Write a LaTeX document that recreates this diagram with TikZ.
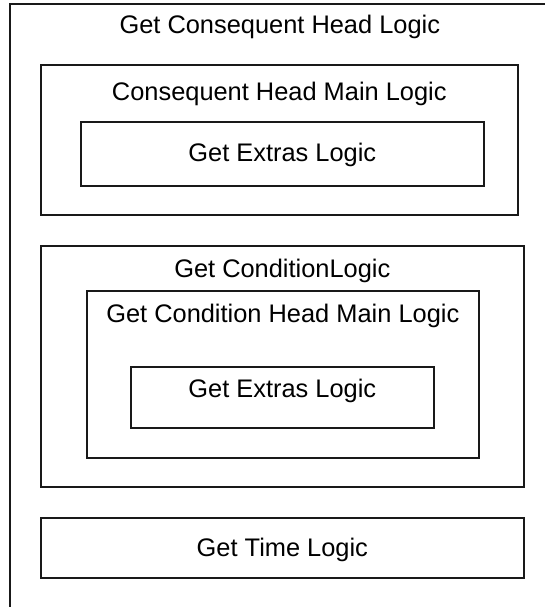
\documentclass[tikz,border=0pt]{standalone}
\usepackage{fontspec}
\setmainfont{Liberation Sans}
\usetikzlibrary{calc}
\definecolor{bordercol}{RGB}{25, 25, 25}
\tikzset{
    logicbox/.style={
        rectangle,
        draw=bordercol,
        line width=1.6pt,
        inner sep=0pt,
        anchor=north west
    },
    boxtitle/.style={
        anchor=base,
        inner sep=0pt,
        font=\fontsize{25.4}{30}\selectfont
    }
}
\begin{document}
\begin{tikzpicture}[x=1pt, y=-1pt]
    \useasboundingbox (0,0) rectangle (545,607);

    % --- outer frame (runs past the page) ---
    \node (headBox) [logicbox, minimum width=540pt, minimum height=640pt] at (9,3) {};
    \node (headTitle) [boxtitle] at ($(headBox.north)+(0,31)$) {Get Consequent Head Logic};

    % --- consequent head ---
    \node (mainBox) [logicbox, minimum width=477pt, minimum height=150pt] at (40,64) {};
    \node (mainTitle) [boxtitle] at ($(mainBox.north)+(0,37)$) {Consequent Head Main Logic};
    \node (extrasA) [logicbox, minimum width=403pt, minimum height=64pt] at (80,121) {};
    \node (extrasATitle) [boxtitle] at ($(extrasA.north)+(0,40)$) {Get Extras Logic};

    % --- condition ---
    \node (condBox) [logicbox, minimum width=483pt, minimum height=241pt] at (40,245) {};
    \node (condTitle) [boxtitle] at ($(condBox.north)+(0,32)$) {Get ConditionLogic};
    \node (condMainBox) [logicbox, minimum width=392pt, minimum height=167pt] at (86,290) {};
    \node (condMainTitle) [boxtitle] at ($(condMainBox.north)+(0,32)$) {Get Condition Head Main Logic};
    \node (extrasB) [logicbox, minimum width=303pt, minimum height=61pt] at (130,366) {};
    \node (extrasBTitle) [boxtitle] at ($(extrasB.north)+(0,31.5)$) {Get Extras Logic};

    % --- time ---
    \node (timeBox) [logicbox, minimum width=483pt, minimum height=60pt] at (40,517) {};
    \node (timeTitle) [boxtitle] at ($(timeBox.north)+(0,39)$) {Get Time Logic};
\end{tikzpicture}
\end{document}
